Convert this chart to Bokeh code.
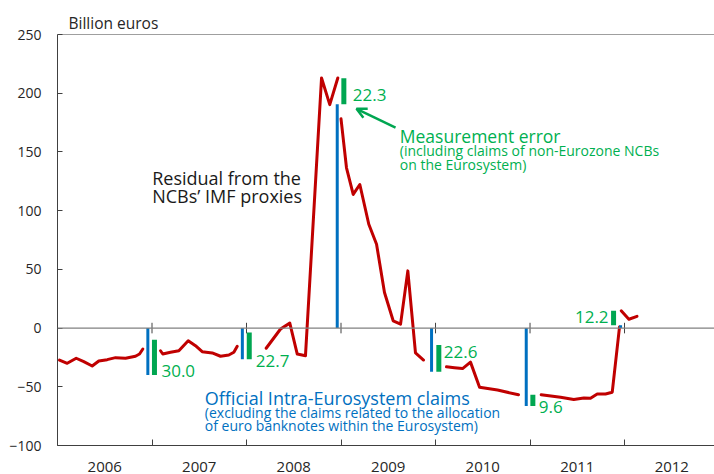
import math
from bokeh.plotting import figure
from bokeh.models import Range1d, FixedTicker, Span, Arrow, OpenHead, ColumnDataSource
from bokeh.core.properties import value
from bokeh.embed import file_html
from bokeh.resources import INLINE

# ---------------- data (billion euros) ----------------
year_starts = [2006, 2007, 2008, 2009, 2010, 2011, 2012]
year_labels = ["2006", "2007", "2008", "2009", "2010", "2011", "2012"]
y_ticks = [-100, -50, 0, 50, 100, 150, 200, 250]

# Residual from the NCBs' IMF proxies (monthly, decimal-year dates)
res_2006_x = [2006.021, 2006.103, 2006.198, 2006.278, 2006.367, 2006.437, 2006.526, 2006.614, 2006.720, 2006.825, 2006.868, 2006.903]
res_2006_y = [-27.2, -30.0, -25.7, -28.6, -32.3, -28.0, -26.9, -25.2, -25.7, -24.0, -22.1, -17.8]
res_2007_x = [2007.090, 2007.114, 2007.196, 2007.284, 2007.383, 2007.460, 2007.531, 2007.637, 2007.725, 2007.813, 2007.866, 2007.902]
res_2007_y = [-19.3, -22.1, -20.6, -19.3, -10.8, -15.0, -20.1, -21.2, -24.0, -22.9, -20.6, -15.5]
res_2008_x = [2008.208, 2008.360, 2008.458, 2008.537, 2008.624, 2008.794, 2008.881, 2008.966]
res_2008_y = [-17.2, -0.8, 4.2, -22.1, -23.5, 213.0, 190.3, 213.0]
res_2009_x = [2009.000, 2009.058, 2009.129, 2009.199, 2009.294, 2009.376, 2009.460, 2009.552, 2009.630, 2009.707, 2009.788, 2009.873]
res_2009_y = [178.2, 136.5, 113.8, 122.3, 88.4, 71.4, 30.3, 6.2, 3.4, 48.7, -21.2, -27.2]
res_2010_x = [2010.116, 2010.200, 2010.286, 2010.370, 2010.466, 2010.656, 2010.878]
res_2010_y = [-33.0, -33.8, -34.5, -29.0, -50.4, -52.8, -56.8]
res_2011_x = [2011.118, 2011.323, 2011.463, 2011.570, 2011.640, 2011.711, 2011.799, 2011.870, 2011.947]
res_2011_y = [-56.7, -58.9, -60.9, -59.5, -59.7, -56.1, -56.1, -54.6, 1.0]
res_2012_x = [2011.965, 2012.046, 2012.132]
res_2012_y = [14.7, 7.5, 10.0]

# Year-end decomposition
official_x = [2006.956, 2007.956, 2008.960, 2009.958, 2010.960, 2011.958]
official = [-40.0, -26.5, 190.5, -37.1, -66.3, 2.5]          # Official Intra-Eurosystem claims
error_x = [2007.026, 2008.029, 2009.030, 2010.035, 2011.030, 2011.884]
meas_error = [30.0, 22.7, 22.3, 22.6, 9.6, 12.2]              # Measurement error

# ---------------- style ----------------
FONT = "Open Sans"
RED = "#C00000"
BLUE = "#0070C0"
GREEN_BAR = "#00A651"
GREEN_TXT = "#00B050"
AXIS = "#404040"
ZERO = "#808080"
TXT = "#262626"

p = figure(width=714, height=474,
           x_range=Range1d(2006, 2012.952), y_range=Range1d(-100, 250),
           output_backend="svg", toolbar_location=None,
           min_border_left=57, min_border_right=0, min_border_top=34, min_border_bottom=28)
p.outline_line_color = None
p.xgrid.grid_line_color = None
p.ygrid.grid_line_color = None
p.background_fill_color = "white"
p.border_fill_color = "white"

# title "Billion euros"
p.title.text = "Billion euros"
p.title.text_font = FONT
p.title.text_font_size = "15.5px"
p.title.text_font_style = "normal"
p.title.text_color = TXT
p.title.align = "left"
p.title.offset = 11
p.title.standoff = 2

# y axis
p.yaxis.ticker = FixedTicker(ticks=y_ticks)
p.yaxis.major_tick_in = 5
p.yaxis.major_tick_out = 0
p.yaxis.minor_tick_line_color = None
p.yaxis.axis_line_color = AXIS
p.yaxis.major_tick_line_color = AXIS
p.yaxis.major_label_text_font = FONT
p.yaxis.major_label_text_font_size = "14px"
p.yaxis.major_label_text_color = TXT
p.yaxis.major_label_standoff = 16

# x axis: labels centred in each year, ticks at year boundaries
mids = [y + 0.5 for y in year_starts]
bounds = year_starts + [year_starts[-1] + 1]
p.xaxis.ticker = FixedTicker(ticks=mids, minor_ticks=bounds)
p.xaxis.major_label_overrides = {m: lab for m, lab in zip(mids, year_labels)}
p.xaxis.major_tick_line_color = None
p.xaxis.minor_tick_in = 6
p.xaxis.minor_tick_out = 0
p.xaxis.minor_tick_line_color = AXIS
p.xaxis.axis_line_color = AXIS
p.xaxis.major_label_text_font = FONT
p.xaxis.major_label_text_font_size = "15px"
p.xaxis.major_label_text_color = TXT
p.xaxis.major_label_standoff = 10

# top frame line
p.add_layout(Span(location=y_ticks[-1], dimension="width", line_color=AXIS, line_width=1))
# zero line with year-boundary ticks
p.add_layout(Span(location=0, dimension="width", line_color=ZERO, line_width=1.2))
p.segment(x0=year_starts[1:], y0=[-4.5] * 6, x1=year_starts[1:], y1=[4.5] * 6,
          line_color=AXIS, line_width=1)

# residual line
for xs, ys in [(res_2006_x, res_2006_y), (res_2007_x, res_2007_y), (res_2008_x, res_2008_y),
               (res_2009_x, res_2009_y), (res_2010_x, res_2010_y), (res_2011_x, res_2011_y),
               (res_2012_x, res_2012_y)]:
    p.line(xs, ys, line_color=RED, line_width=3, line_join="round", line_cap="round")

# official claims bars (blue) and measurement error bars (green)
p.segment(x0=official_x, y0=[0] * len(official), x1=official_x, y1=official,
          line_color=BLUE, line_width=3)
err_top = [o + e for o, e in zip(official, meas_error)]
p.segment(x0=error_x, y0=official, x1=error_x, y1=err_top,
          line_color=GREEN_BAR, line_width=5)

# value labels next to the green bars
lab_src = ColumnDataSource(dict(
    x=error_x,
    y=[-36.5, -27.8, 198.8, -20.1, -67.1, 9.3],
    text=[f"{v:.1f}" for v in meas_error],
    align=["left", "left", "left", "left", "left", "right"],
    xo=[7, 6.5, 9, 5, 6, -5],
))
p.text(x="x", y="y", text="text", source=lab_src, x_offset="xo", text_align="align",
       text_baseline="middle", text_font=value(FONT), text_font_size="17px",
       text_color=GREEN_TXT)

# annotations
p.text(x=[2007.002, 2007.002], y=[127.4, 112.1],
       text=["Residual from the", "NCBs\u2019 IMF proxies"],
       text_font=value(FONT), text_font_size="18px", text_color="#1a1a1a",
       text_align="left", text_baseline="alphabetic")

p.text(x=[2009.622], y=[163.4], text=["Measurement error"],
       text_font=value(FONT), text_font_size="17.5px", text_color=GREEN_TXT,
       text_align="left", text_baseline="alphabetic")
p.text(x=[2009.622, 2009.622], y=[151.2, 138.9],
       text=["(including claims of non-Eurozone NCBs", "on the Eurosystem)"],
       text_font=value(FONT), text_font_size="14px", text_color=GREEN_TXT,
       text_align="left", text_baseline="alphabetic")

p.text(x=[2007.559], y=[-59.7], text=["Official Intra-Eurosystem claims"],
       text_font=value(FONT), text_font_size="18px", text_color=BLUE,
       text_align="left", text_baseline="alphabetic")
p.text(x=[2007.559, 2007.559], y=[-72.3, -83.0],
       text=["(excluding the claims related to the allocation",
             "of euro banknotes within the Eurosystem)"],
       text_font=value(FONT), text_font_size="14px", text_color=BLUE,
       text_align="left", text_baseline="alphabetic")

p.add_layout(Arrow(end=OpenHead(size=10, line_color=GREEN_BAR, line_width=2.5),
                   x_start=2009.577, y_start=170.8, x_end=2009.164, y_end=186.7,
                   line_color=GREEN_BAR, line_width=2.5))

open("out.html", "w").write(file_html(p, INLINE))
